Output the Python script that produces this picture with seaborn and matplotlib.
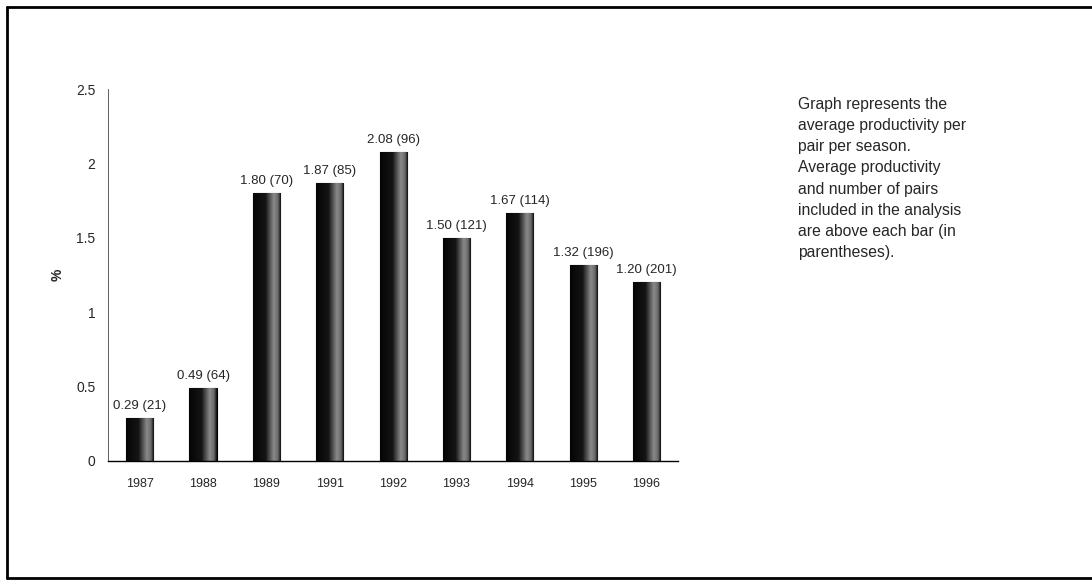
import matplotlib.pyplot as plt
import seaborn as sns
import pandas as pd
import numpy as np
from matplotlib.colors import LinearSegmentedColormap

# Data
years = ['1987', '1988', '1989', '1991', '1992', '1993', '1994', '1995', '1996']
productivity = [0.29, 0.49, 1.80, 1.87, 2.08, 1.50, 1.67, 1.32, 1.20]
pairs = [21, 64, 70, 85, 96, 121, 114, 196, 201]
note = ("Graph represents the\naverage productivity per\npair per season.\n"
        "Average productivity\nand number of pairs\nincluded in the analysis\n"
        "are above each bar (in\nparentheses).")

df = pd.DataFrame({'Year': years, 'Productivity': productivity, 'Pairs': pairs})

sns.set_style('white')
plt.rcParams['font.family'] = ['Liberation Sans', 'DejaVu Sans']

fig = plt.figure(figsize=(10.92, 5.82), dpi=100)
ax = fig.add_axes([0.099, 0.208, 0.522, 0.639])

sns.barplot(data=df, x='Year', y='Productivity', color='#262626', width=0.43,
            edgecolor='black', linewidth=0.8, saturation=1, ax=ax)

# scanned look: dark left side, grey speckled right side
shade = LinearSegmentedColormap.from_list(
    'shade', [(0, '#050505'), (0.45, '#151515'), (0.75, '#8a8a8a'), (0.9, '#6a6a6a'), (1, '#101010')])
grad = np.linspace(0, 1, 64).reshape(1, -1)
for bar in ax.patches:
    x0, y0 = bar.get_x(), bar.get_y()
    w, h = bar.get_width(), bar.get_height()
    im = ax.imshow(grad, cmap=shade, aspect='auto', extent=(x0, x0 + w, y0, y0 + h),
                   zorder=bar.get_zorder() + 0.1)
    im.set_clip_path(bar)

for i, (v, n) in enumerate(zip(productivity, pairs)):
    ax.text(i, v + 0.04, f'{v:.2f} ({n})', ha='center', va='bottom', fontsize=9.5)

ax.set_ylim(0, 2.5)
ax.set_xlim(-0.5, len(years) - 0.5)
ax.set_yticks([0, 0.5, 1, 1.5, 2, 2.5])
ax.set_yticklabels(['0', '0.5', '1', '1.5', '2', '2.5'])
ax.tick_params(axis='x', length=0, labelsize=9, pad=12)
ax.tick_params(axis='y', length=0, labelsize=10, pad=9)
ax.set_xlabel('')
ax.set_ylabel('%', fontsize=10, fontweight='bold', labelpad=8)

for side in ['top', 'right']:
    ax.spines[side].set_visible(False)
ax.spines['left'].set_linewidth(0.6)
ax.spines['left'].set_linestyle((0, (1, 1)))
ax.spines['left'].set_color('#444444')
ax.spines['bottom'].set_linewidth(1.0)
ax.spines['bottom'].set_color('black')

fig.text(0.731, 0.834, note, ha='left', va='top', fontsize=11.3, linespacing=1.52)

# outer frame: left, top and bottom edges
fig.add_artist(plt.Line2D([0.006, 0.006], [0.007, 0.988], transform=fig.transFigure,
                          color='black', linewidth=2))
fig.add_artist(plt.Line2D([0.006, 1.0], [0.988, 0.988], transform=fig.transFigure,
                          color='black', linewidth=2))
fig.add_artist(plt.Line2D([0.006, 1.0], [0.007, 0.007], transform=fig.transFigure,
                          color='black', linewidth=2))

fig.savefig('out.png', dpi=100)
